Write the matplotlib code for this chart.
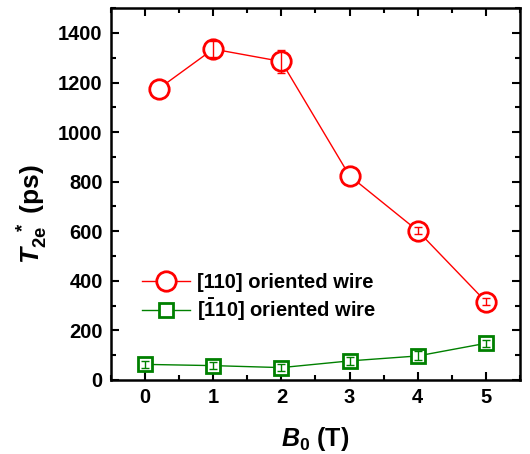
import matplotlib
matplotlib.use("Agg")
import matplotlib.pyplot as plt
from matplotlib.ticker import MultipleLocator

plt.rcParams["font.family"] = ["Liberation Sans", "DejaVu Sans"]
plt.rcParams["font.weight"] = "bold"
plt.rcParams["mathtext.fontset"] = "custom"
plt.rcParams["mathtext.rm"] = "Liberation Sans:bold"
plt.rcParams["mathtext.bf"] = "Liberation Sans:bold"
plt.rcParams["mathtext.it"] = "Liberation Sans:bold:italic"

# [110] oriented wire
b_110 = [0.2, 1, 2, 3, 4, 5]
t_110 = [1175, 1335, 1285, 824, 602, 316]
err_110 = [0, 32, 45, 0, 15, 15]

# [-110] oriented wire
b_m110 = [0, 1, 2, 3, 4, 5]
t_m110 = [63, 58, 50, 77, 97, 148]
err_m110 = [15, 15, 15, 15, 18, 15]

label_110 = "[110] oriented wire"
label_m110 = r"[$\bar{\mathbf{1}}$10] oriented wire"

red = "#ff0000"
green = "#008000"


def draw_errors(ax, x, y, err, color):
    # only points with a visible error bar
    keep = [i for i, e in enumerate(err) if e > 0]
    ax.errorbar([x[i] for i in keep], [y[i] for i in keep],
                yerr=[err[i] for i in keep], fmt="none", ecolor=color,
                elinewidth=1, capsize=3, capthick=1, zorder=4)


fig = plt.figure(figsize=(5.3, 4.54), dpi=100)
ax = fig.add_axes([0.2094, 0.163, 0.7716, 0.819])

ax.plot(b_110, t_110, "-o", color=red, lw=1, ms=14, mfc="white",
        mec=red, mew=2, zorder=3, label=label_110)
draw_errors(ax, b_110, t_110, err_110, red)

ax.plot(b_m110, t_m110, "-s", color=green, lw=1, ms=10, mfc="white",
        mec=green, mew=2, zorder=3, label=label_m110)
draw_errors(ax, b_m110, t_m110, err_m110, green)

ax.set_xlim(-0.5, 5.5)
ax.set_ylim(0, 1500)
ax.xaxis.set_major_locator(MultipleLocator(1))
ax.xaxis.set_minor_locator(MultipleLocator(0.5))
ax.yaxis.set_major_locator(MultipleLocator(200))
ax.yaxis.set_minor_locator(MultipleLocator(100))
ax.set_yticks(range(0, 1401, 200))

ax.tick_params(which="both", direction="in", top=True, right=True, width=1.5)
ax.tick_params(which="major", length=6, labelsize=14.5, pad=6)
ax.tick_params(which="minor", length=3.5)
for lab in ax.get_xticklabels() + ax.get_yticklabels():
    lab.set_fontweight("bold")
for s in ax.spines.values():
    s.set_linewidth(1.8)

ax.set_xlabel(r"$B_\mathrm{0}$ (T)", fontsize=18, fontweight="bold", labelpad=13)
ax.set_ylabel(r"$T_{\mathrm{2e}}^{\ \ *}$ (ps)", fontsize=19, fontweight="bold")
ax.yaxis.set_label_coords(-0.149, 0.446)

leg = ax.legend(loc="center left", bbox_to_anchor=(0.075, 0.221), frameon=False,
                fontsize=14.5, handlelength=2.4, handletextpad=0.35,
                borderpad=0, borderaxespad=0, labelspacing=0.2)
for t in leg.get_texts():
    t.set_fontweight("bold")

fig.savefig("out.png", dpi=100)
